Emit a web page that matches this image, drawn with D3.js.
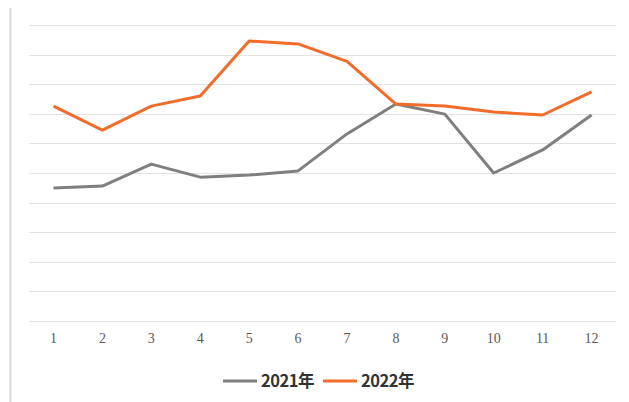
<!DOCTYPE html>
<html>
<head>
<meta charset="utf-8">
<script src="https://cdn.jsdelivr.net/npm/d3@7"></script>
<style>
  body { margin: 0; background: #fff; }
</style>
</head>
<body>
<div id="chart"></div>
<script>
const months = ["1", "2", "3", "4", "5", "6", "7", "8", "9", "10", "11", "12"];
const values2021 = [4.49, 4.56, 5.3, 4.86, 4.93, 5.07, 6.32, 7.33, 6.99, 5.0, 5.78, 6.96];
const values2022 = [7.26, 6.45, 7.26, 7.6, 9.46, 9.36, 8.77, 7.33, 7.26, 7.06, 6.96, 7.74];
const yTicks = [0, 1, 2, 3, 4, 5, 6, 7, 8, 9, 10];
const seriesNames = ["2021年", "2022年"];

const width = 629;
const height = 402;
const margin = { top: 25, right: 13, bottom: 81, left: 29 };

const colors = ["#7f7f7f", "#f26c2b"];
const series = [values2021, values2022];

const svg = d3.select("#chart")
  .append("svg")
    .attr("width", width)
    .attr("height", height);

// frame edge on the left
svg.append("line")
  .attr("x1", 10.5).attr("x2", 10.5)
  .attr("y1", 8).attr("y2", height)
  .attr("stroke", "#dcdcdc")
  .attr("stroke-width", 2);

const x = d3.scaleBand()
  .domain(months)
  .range([margin.left, width - margin.right]);

const y = d3.scaleLinear()
  .domain([0, 10])
  .range([height - margin.bottom, margin.top]);

// gridlines
svg.append("g")
  .selectAll("line")
  .data(yTicks)
  .join("line")
    .attr("x1", margin.left)
    .attr("x2", width - margin.right)
    .attr("y1", d => Math.round(y(d)) + 0.5)
    .attr("y2", d => Math.round(y(d)) + 0.5)
    .attr("stroke", "#e3e3e3")
    .attr("stroke-width", 1.2);

// x labels
const xAxis = svg.append("g")
  .attr("transform", `translate(0,${height - margin.bottom})`)
  .call(d3.axisBottom(x).tickSize(0).tickPadding(12));
xAxis.select(".domain").remove();
xAxis.selectAll("text")
  .attr("font-family", "'Liberation Serif', serif")
  .attr("font-size", 14)
  .attr("fill", "#595959");

const line = d3.line()
  .x((d, i) => x(months[i]) + x.bandwidth() / 2)
  .y(d => y(d));

svg.append("g")
  .selectAll("path")
  .data(series)
  .join("path")
    .attr("fill", "none")
    .attr("stroke", (d, i) => colors[i])
    .attr("stroke-width", 3)
    .attr("stroke-linejoin", "round")
    .attr("d", line);

// legend
const legend = svg.append("g")
  .attr("transform", "translate(223,381)");

const item = legend.selectAll("g")
  .data(seriesNames)
  .join("g")
    .attr("transform", (d, i) => `translate(${i * 100},0)`);

item.append("line")
  .attr("x1", 0).attr("x2", 34)
  .attr("stroke", (d, i) => colors[i])
  .attr("stroke-width", 3);

item.append("text")
  .attr("x", 38)
  .attr("dy", "0.36em")
  .attr("font-family", "'Noto Sans CJK SC', sans-serif")
  .attr("font-size", 16.5)
  .attr("font-weight", "bold")
  .attr("letter-spacing", -0.5)
  .attr("fill", "#333")
  .text(d => d);
</script>
</body>
</html>
